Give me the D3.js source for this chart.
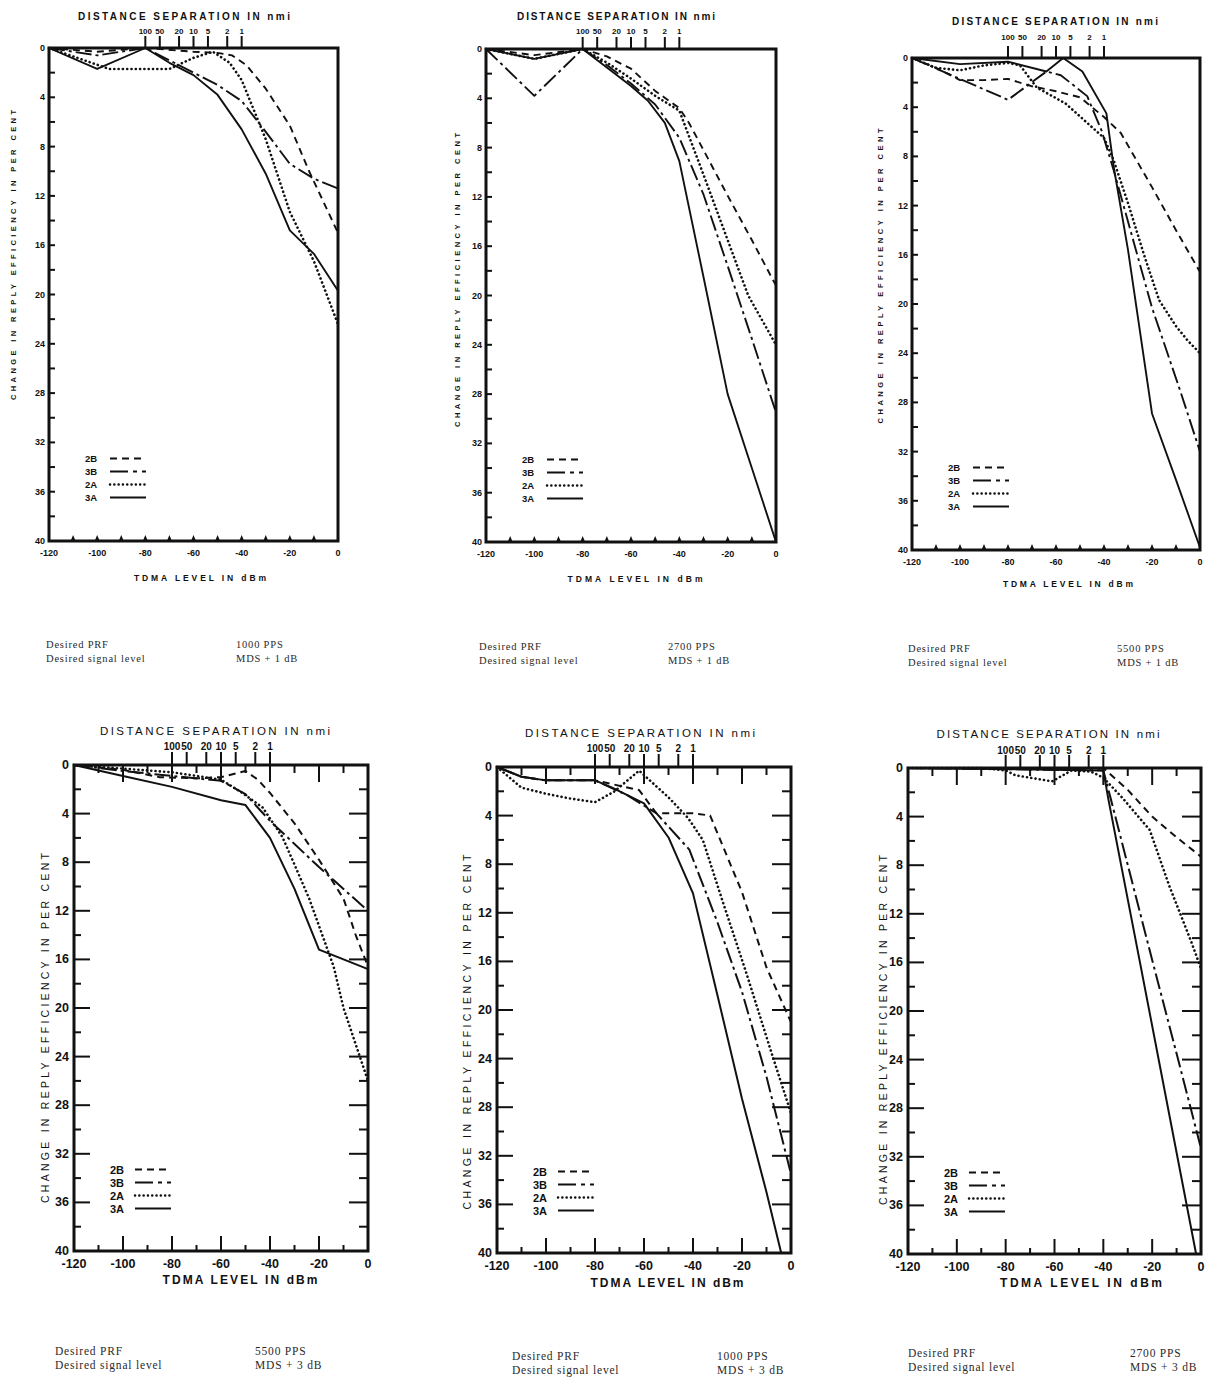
<!DOCTYPE html>
<html><head><meta charset="utf-8">
<script src="https://cdn.jsdelivr.net/npm/d3@7"></script>
<style>body{margin:0;background:#fff} svg{display:block}</style>
</head><body>
<svg id="chart" width="1207" height="1382"></svg>
<script>
// ---------------- data ----------------
const dbmTicks = [-120,-100,-80,-60,-40,-20,0];
const dbmMinor = [-110,-90,-70,-50,-30,-10];
const yTicks = [0,4,8,12,16,20,24,28,32,36,40];
const yMinor = [2,6,10,14,18,22,26,30,34,38];
const distLabels = ["100","50","20","10","5","2","1"];
const distDbm = [-80,-74,-66,-60,-54,-46,-40];
const seriesNames = ["2B","3B","2A","3A"];
const prfValues = ["1000 PPS","2700 PPS","5500 PPS","5500 PPS","1000 PPS","2700 PPS"];
const signalValues = ["MDS + 1 dB","MDS + 1 dB","MDS + 1 dB","MDS + 3 dB","MDS + 3 dB","MDS + 3 dB"];

// panel 1 : 1000 PPS, MDS + 1 dB
const p1_2B = [[-120,0],[-100,0.3],[-80,0],[-60,0.3],[-50,0.4],[-44,0.6],[-38,1.4],[-30,3.3],[-20,6.3],[-12,10],[0,15]];
const p1_3B = [[-120,0],[-100,0.6],[-80,0],[-70,1.0],[-60,2.0],[-50,3.0],[-40,4.3],[-30,6.8],[-20,9.4],[-10,10.6],[0,11.4]];
const p1_2A = [[-120,0],[-95,1.7],[-80,1.7],[-70,1.7],[-60,0.8],[-52,0.3],[-45,1.2],[-40,2.6],[-30,7.4],[-20,13.3],[-10,17.3],[0,22.4]];
const p1_3A = [[-120,0],[-100,1.7],[-80,0],[-70,1.2],[-60,2.2],[-50,3.8],[-40,6.6],[-30,10.2],[-20,14.8],[-10,16.7],[0,19.7]];
// panel 2 : 2700 PPS, MDS + 1 dB
const p2_2B = [[-120,0],[-100,0.5],[-80,0],[-70,0.6],[-60,1.6],[-50,3.4],[-40,4.8],[-36,6.0],[-30,8.2],[-20,11.9],[-10,15.5],[0,19.2]];
const p2_3B = [[-120,0],[-100,3.8],[-80,0],[-70,1.3],[-60,2.8],[-50,4.5],[-40,7.2],[-30,11.8],[-20,17.6],[-10,23.5],[0,29.5]];
const p2_2A = [[-120,0],[-100,0.8],[-80,0],[-70,1.1],[-60,2.4],[-50,3.8],[-40,5.0],[-30,10.2],[-20,15.5],[-11.5,20],[0,24]];
const p2_3A = [[-120,0],[-100,0.8],[-80,0],[-70,1.5],[-60,3.0],[-53,4.2],[-46,6],[-40,9.1],[-30,18.5],[-20,28],[-10,34],[0,40]];
// panel 3 : 5500 PPS, MDS + 1 dB
const p3_2B = [[-120,0],[-110,0.8],[-100,1.8],[-90,1.8],[-80,1.7],[-70,2.3],[-60,2.7],[-50,3.2],[-40,4.8],[-33,6.1],[-20,10.5],[-10,14],[0,17.4]];
const p3_3B = [[-120,0],[-100,1.7],[-80,3.4],[-64,1.1],[-58,1.4],[-47,3.1],[-41,5.9],[-36,9.1],[-27,15.4],[-20,20.3],[-8,27.2],[0,32]];
const p3_2A = [[-120,0],[-110,0.8],[-100,1.0],[-90,0.6],[-80,0.4],[-75,0.6],[-68,2.4],[-56,3.7],[-40,6.5],[-36,8.3],[-30,11.8],[-23,16.2],[-17,19.7],[-10,21.8],[-5,23],[0,24]];
const p3_3A = [[-120,0],[-100,0.5],[-80,0.3],[-64,1.1],[-57,0],[-49,1.1],[-39,4.5],[-36,8.8],[-30,15.6],[-20,28.9],[-10,34.3],[0,39.8]];
// panel 4 : 5500 PPS, MDS + 3 dB
const p4_2B = [[-120,0],[-110,0.2],[-100,0.4],[-90,0.8],[-85,1.0],[-70,1.1],[-60,1.0],[-50,0.5],[-45,1.2],[-40,2.3],[-30,4.8],[-20,7.8],[-10,11],[-5,14],[0,16.6]];
const p4_3B = [[-120,0],[-100,0.5],[-80,0.9],[-60,1.3],[-50,2.4],[-40,4.6],[-30,6.5],[-20,8.4],[-10,10.2],[0,12]];
const p4_2A = [[-120,0],[-100,0.3],[-80,0.6],[-70,0.9],[-60,1.2],[-52,2.2],[-43,3.5],[-35,5.9],[-30,8.2],[-24,11],[-14,16.6],[-10,20],[-5,23],[0,26]];
const p4_3A = [[-120,0],[-100,0.9],[-80,1.8],[-60,2.9],[-50,3.3],[-40,6.0],[-30,10.2],[-20,15.2],[-10,16.0],[0,16.8]];
// panel 5 : 1000 PPS, MDS + 3 dB
const p5_2B = [[-120,0],[-110,0.8],[-100,1.1],[-80,1.1],[-62,1.9],[-55,3.8],[-40,3.8],[-33,4.0],[-20,10.3],[-10,16.5],[0,21]];
const p5_3B = [[-120,0],[-110,0.8],[-100,1.1],[-80,1.1],[-67,2.3],[-55,3.8],[-41.5,6.8],[-30,12.8],[-20,18.5],[-10,25.5],[0,33.5]];
const p5_2A = [[-120,0],[-110,1.7],[-100,2.2],[-90,2.6],[-80,2.9],[-72,2.0],[-62,0.3],[-50,2.5],[-42,4.2],[-36,6],[-28,11],[-18,17.1],[-8,23.5],[0,28.5]];
const p5_3A = [[-120,0],[-110,0.8],[-100,1.1],[-80,1.1],[-73,1.7],[-60,3.0],[-50,5.8],[-40,10.4],[-30,18.8],[-20,27.3],[-10,35],[-4,40]];
// panel 6 : 2700 PPS, MDS + 3 dB
const p6_2B = [[-120,0],[-40,0],[-30,1.8],[-20,4.0],[-10,5.7],[0,7.3]];
const p6_3B = [[-120,0],[-40,0.2],[-37,2.5],[-20,15.8],[-10,23.5],[0,31.3]];
const p6_2A = [[-120,0],[-90,0],[-80,0.2],[-76,0.6],[-61,1.1],[-53,0.2],[-45,0.3],[-40,0.8],[-32,2.5],[-21,5.1],[-13,9.7],[-4,14.3],[0,16.5]];
const p6_3A = [[-120,0],[-40,0.2],[-38,2.5],[-25,16],[-2,40]];

const panelSeries = [
  [p1_2B,p1_3B,p1_2A,p1_3A],
  [p2_2B,p2_3B,p2_2A,p2_3A],
  [p3_2B,p3_3B,p3_2A,p3_3A],
  [p4_2B,p4_3B,p4_2A,p4_3A],
  [p5_2B,p5_3B,p5_2A,p5_3A],
  [p6_2B,p6_3B,p6_2A,p6_3A]
];

// ---------------- layout (positions / styles) ----------------
const layout = [
 {left:49,right:338,top:48,bottom:541,style:'a',titleX:184,titleY:16,titleW:212,distY:31,yLabX:13,yLabY:255,yLabW:290,xLabX:200,xLabY:578,xLabW:132,noteX:46,valX:236,noteY:644},
 {left:486,right:776,top:49,bottom:542,style:'a',titleX:616,titleY:16,titleW:198,distY:31,yLabX:457,yLabY:280,yLabW:294,xLabX:635,xLabY:579,xLabW:135,noteX:479,valX:668,noteY:646},
 {left:912,right:1200,top:58,bottom:550,style:'a',titleX:1055,titleY:21,titleW:206,distY:37,yLabX:880,yLabY:276,yLabW:295,xLabX:1068,xLabY:584,xLabW:130,noteX:908,valX:1117,noteY:648},
 {left:74,right:368,top:765,bottom:1251,style:'b',titleX:215,titleY:731,titleW:230,distY:746,yLabX:45,yLabY:1028,yLabW:350,xLabX:240,xLabY:1280,xLabW:155,noteX:55,valX:255,noteY:1351},
 {left:497,right:791,top:767,bottom:1253,style:'b',titleX:640,titleY:733,titleW:230,distY:748,yLabX:467,yLabY:1032,yLabW:355,xLabX:667,xLabY:1283,xLabW:153,noteX:512,valX:717,noteY:1356},
 {left:908,right:1201,top:768,bottom:1254,style:'b',titleX:1048,titleY:734,titleW:223,distY:750,yLabX:883,yLabY:1030,yLabW:350,xLabX:1081,xLabY:1283,xLabW:162,noteX:908,valX:1130,noteY:1353}
];

const dashes = {"2B":"7,5","3B":"16,4,3,4","2A":"0.1,4.2","3A":null};
const INK = "#111";
const svg = d3.select('#chart');
const SANS = "'Liberation Sans', Arial, sans-serif";
const SERIF = "'Liberation Serif', 'DejaVu Serif', serif";

layout.forEach((L, i) => {
  const g = svg.append('g');
  const A = L.style === 'a';
  const x = d3.scaleLinear().domain([-120, 0]).range([L.left, L.right]);
  const y = d3.scaleLinear().domain([0, 40]).range([L.top, L.bottom]);
  const line = d3.line().x(d => x(d[0])).y(d => y(d[1]));

  // data lines
  panelSeries[i].forEach((data, k) => {
    const name = seriesNames[k];
    g.append('path').attr('d', line(data))
      .attr('fill', 'none').attr('stroke', INK)
      .attr('stroke-width', name === '2A' ? 2.6 : (A ? 1.9 : 2.0))
      .attr('stroke-linecap', name === '2A' ? 'round' : 'butt')
      .attr('stroke-linejoin', 'round')
      .attr('stroke-dasharray', dashes[name]);
  });

  // frame
  g.append('rect').attr('x', L.left).attr('y', L.top)
    .attr('width', L.right - L.left).attr('height', L.bottom - L.top)
    .attr('fill', 'none').attr('stroke', INK).attr('stroke-width', 3);

  const tick = (x1, y1, x2, y2, w) => g.append('line')
    .attr('x1', x1).attr('y1', y1).attr('x2', x2).attr('y2', y2)
    .attr('stroke', INK).attr('stroke-width', w);

  if (A) {
    yTicks.slice(1, -1).concat(yMinor).forEach(v => tick(L.left, y(v), L.left + 6, y(v), 2));
    dbmMinor.concat(dbmTicks.slice(1, -1)).forEach(v => {
      g.append('path').attr('d', `M${x(v)-2.5},${L.bottom} L${x(v)},${L.bottom-6} L${x(v)+2.5},${L.bottom} Z`).attr('fill', INK);
    });
  } else {
    yTicks.slice(1, -1).forEach(v => { tick(L.left, y(v), L.left + 16, y(v), 2); tick(L.right, y(v), L.right - 19, y(v), 2); });
    yMinor.forEach(v => { tick(L.left, y(v), L.left + 7, y(v), 2); tick(L.right, y(v), L.right - 9, y(v), 2); });
    dbmTicks.slice(1, -1).forEach(v => { tick(x(v), L.bottom, x(v), L.bottom - 15, 2); tick(x(v), L.top, x(v), L.top + 17, 2); });
    dbmMinor.forEach(v => { tick(x(v), L.bottom, x(v), L.bottom - 6, 2); tick(x(v), L.top, x(v), L.top + 8, 2); });
  }

  // distance separation ticks (top)
  distDbm.forEach((v, j) => {
    tick(x(v), L.top, x(v), L.top - (A ? 12 : 13), 2);
    g.append('text').attr('x', x(v)).attr('y', L.distY)
      .attr('text-anchor', 'middle').attr('dominant-baseline', 'central')
      .attr('font-family', SANS).attr('font-weight', 'bold')
      .attr('font-size', A ? 8 : 10).attr('fill', INK).text(distLabels[j]);
  });

  // y tick labels
  yTicks.forEach(v => {
    g.append('text').attr('x', L.left - (A ? 4 : 5)).attr('y', y(v))
      .attr('text-anchor', 'end').attr('dominant-baseline', 'central')
      .attr('font-family', SANS).attr('font-weight', 'bold')
      .attr('font-size', A ? 9 : 12.5).attr('fill', INK).text(v);
  });
  // x tick labels
  dbmTicks.forEach(v => {
    g.append('text').attr('x', x(v)).attr('y', L.bottom + (A ? 12 : 13))
      .attr('text-anchor', 'middle').attr('dominant-baseline', 'central')
      .attr('font-family', SANS).attr('font-weight', 'bold')
      .attr('font-size', A ? 9 : 12.5).attr('fill', INK).text(v === 0 ? '0' : '-' + Math.abs(v));
  });

  // titles
  g.append('text').attr('x', L.titleX).attr('y', L.titleY)
    .attr('text-anchor', 'middle').attr('dominant-baseline', 'central')
    .attr('font-family', SANS).attr('font-weight', A ? 'bold' : 'normal')
    .attr('font-size', A ? 10 : 11.5).attr('fill', INK)
    .attr('textLength', L.titleW).attr('lengthAdjust', 'spacing')
    .text('DISTANCE SEPARATION IN nmi');
  g.append('text').attr('x', L.xLabX).attr('y', L.xLabY)
    .attr('text-anchor', 'middle').attr('dominant-baseline', 'central')
    .attr('font-family', SANS).attr('font-weight', 'bold')
    .attr('font-size', A ? 8.5 : 12).attr('fill', INK)
    .attr('textLength', L.xLabW).attr('lengthAdjust', 'spacing')
    .text('TDMA LEVEL IN dBm');
  g.append('text').attr('transform', `translate(${L.yLabX},${L.yLabY}) rotate(-90)`)
    .attr('text-anchor', 'middle').attr('dominant-baseline', 'central')
    .attr('font-family', SANS).attr('font-weight', A ? 'bold' : 'normal')
    .attr('font-size', A ? 7.5 : 10.5).attr('fill', INK)
    .attr('textLength', L.yLabW).attr('lengthAdjust', 'spacing')
    .text('CHANGE IN REPLY EFFICIENCY IN PER CENT');

  // legend
  const legY0 = y(33.3);
  seriesNames.forEach((name, k) => {
    const ly = legY0 + k * 13;
    g.append('text').attr('x', L.left + 36).attr('y', ly)
      .attr('dominant-baseline', 'central')
      .attr('font-family', SANS).attr('font-weight', 'bold')
      .attr('font-size', A ? 9.5 : 11).attr('fill', INK).text(name);
    g.append('line').attr('x1', L.left + 61).attr('x2', L.left + 97)
      .attr('y1', ly).attr('y2', ly)
      .attr('stroke', INK).attr('stroke-width', name === '2A' ? 2.5 : 2)
      .attr('stroke-linecap', name === '2A' ? 'round' : 'butt')
      .attr('stroke-dasharray', name === '3B' ? '18,5,4,5' : dashes[name]);
  });

  // notes below
  const note = (tx, ty, s) => g.append('text').attr('x', tx).attr('y', ty)
    .attr('dominant-baseline', 'central').attr('font-family', SERIF)
    .attr('font-size', A ? 10.5 : 11.5).attr('letter-spacing', 0.8)
    .attr('fill', '#2a2a2a').text(s);
  note(L.noteX, L.noteY, 'Desired PRF');
  note(L.noteX, L.noteY + 14, 'Desired signal level');
  note(L.valX, L.noteY, prfValues[i]);
  note(L.valX, L.noteY + 14, signalValues[i]);
});
</script>
</body></html>
